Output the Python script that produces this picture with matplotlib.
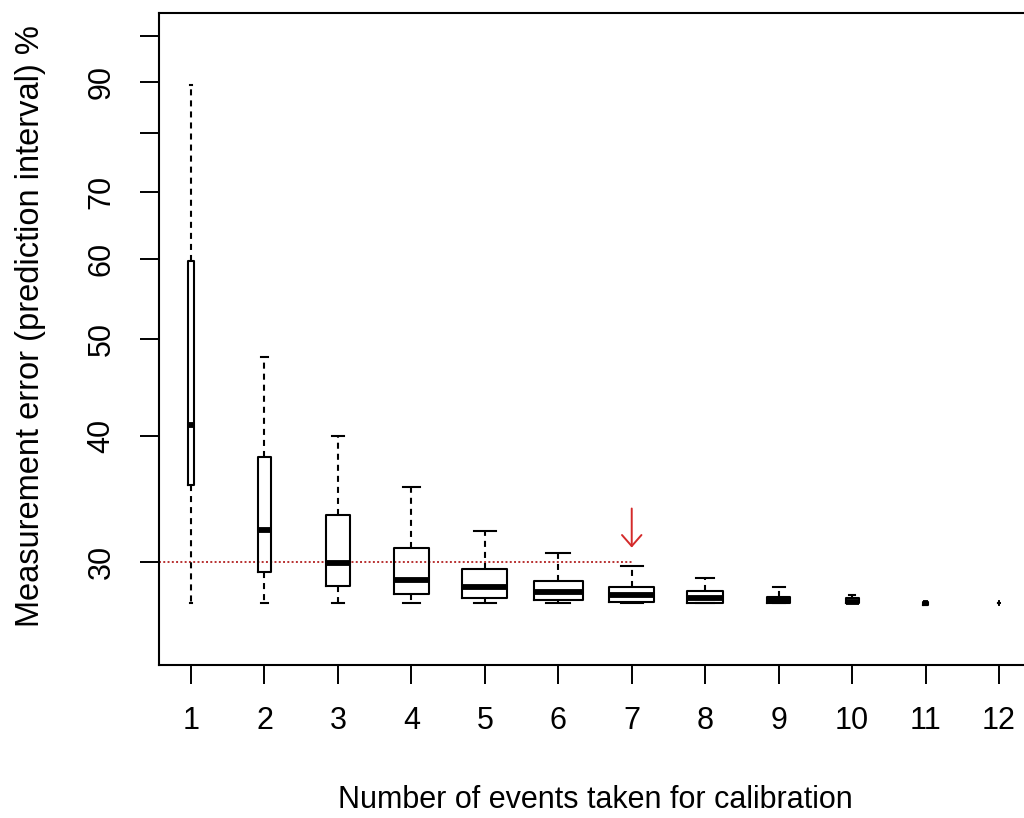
import numpy as np
import matplotlib
matplotlib.use("Agg")
import matplotlib.pyplot as plt

# ---- data ----
groups = [1, 2, 3, 4, 5, 6, 7, 8, 9, 10, 11, 12]
n_events = [12, 66, 220, 495, 792, 924, 792, 495, 220, 66, 12, 1]
whis_lo = [27.3, 27.3, 27.3, 27.3, 27.3, 27.3, 27.3, 27.3, 27.3, 27.3, 27.2, 27.3]
q1 = [35.8, 29.3, 28.4, 27.9, 27.6, 27.5, 27.4, 27.3, 27.3, 27.3, 27.2, 27.3]
med = [41.0, 32.3, 29.9, 28.8, 28.3, 28.0, 27.8, 27.6, 27.5, 27.4, 27.3, 27.3]
q3 = [59.7, 38.1, 33.4, 31.0, 29.5, 28.7, 28.3, 28.1, 27.7, 27.6, 27.4, 27.3]
whis_hi = [89.3, 47.9, 40.0, 35.6, 32.2, 30.6, 29.7, 28.9, 28.3, 27.8, 27.4, 27.3]

y_ticks = [30, 40, 50, 60, 70, 80, 90, 100]
y_ticklabels = ["30", "40", "50", "60", "70", "", "90", ""]
x_ticklabels = [str(g) for g in groups]

threshold = 30
threshold_end = 7
arrow_from, arrow_to = 33.9, 31.0

xlabel = "Number of events taken for calibration"
ylabel = "Measurement error (prediction interval) %"

# ---- figure ----
plt.rcParams["font.family"] = ["Liberation Sans", "DejaVu Sans"]
W, H = 1024, 818
fig = plt.figure(figsize=(W / 100, H / 100), dpi=100)
ax_left, ax_right, ax_top, ax_bot = 159, 1031, 13, 665
ax = fig.add_axes([ax_left / W, 1 - ax_bot / H, (ax_right - ax_left) / W, (ax_bot - ax_top) / H])

ax.set_yscale("log")
ax.set_xlim(0.564, 12.436)
ax.set_ylim(23.7, 105.3)

nmax = max(n_events)
widths = [0.66 * np.sqrt(n / nmax) for n in n_events]
stats = []
for i in range(len(groups)):
    stats.append(dict(med=med[i], q1=q1[i], q3=q3[i], whislo=whis_lo[i], whishi=whis_hi[i], fliers=[]))

lw = 1.5
ax.bxp(stats, positions=groups, widths=widths, capwidths=[w * 0.5 for w in widths],
       showfliers=False, patch_artist=False,
       boxprops=dict(color="black", linewidth=lw),
       whiskerprops=dict(color="black", linewidth=lw, linestyle=(0, (2.9, 2.4))),
       capprops=dict(color="black", linewidth=lw),
       medianprops=dict(color="black", linewidth=4.2, solid_capstyle="butt"))

red = "#d42a2a"
ax.plot([ax.get_xlim()[0], threshold_end], [threshold, threshold], color="#b83030",
        linestyle=(0, (1, 1.2)), linewidth=1.4, zorder=1)
ax.annotate("", xy=(threshold_end, arrow_to), xytext=(threshold_end, arrow_from),
            arrowprops=dict(arrowstyle="->,head_length=0.4,head_width=0.35", color=red,
                            lw=1.4, shrinkA=0, shrinkB=0, mutation_scale=20))

ax.yaxis.set_minor_locator(matplotlib.ticker.NullLocator())
ax.set_yticks(y_ticks)
ax.set_yticklabels(y_ticklabels, rotation=90, va="center")
ax.set_xticks(groups)
ax.set_xticklabels(x_ticklabels)

ax.tick_params(axis="both", which="major", length=13.5, width=1.4, direction="out",
               labelsize=22, colors="black")
ax.tick_params(axis="x", pad=16)
ax.tick_params(axis="y", pad=17)
for s in ax.spines.values():
    s.set_linewidth(1.5)

fig.text(595 / W, 1 - 800 / H, xlabel, ha="center", va="center", fontsize=22)
fig.text(31 / W, 1 - 326 / H, ylabel, ha="center", va="center", fontsize=23.5, rotation=90)

fig.savefig("out.png", dpi=100)
